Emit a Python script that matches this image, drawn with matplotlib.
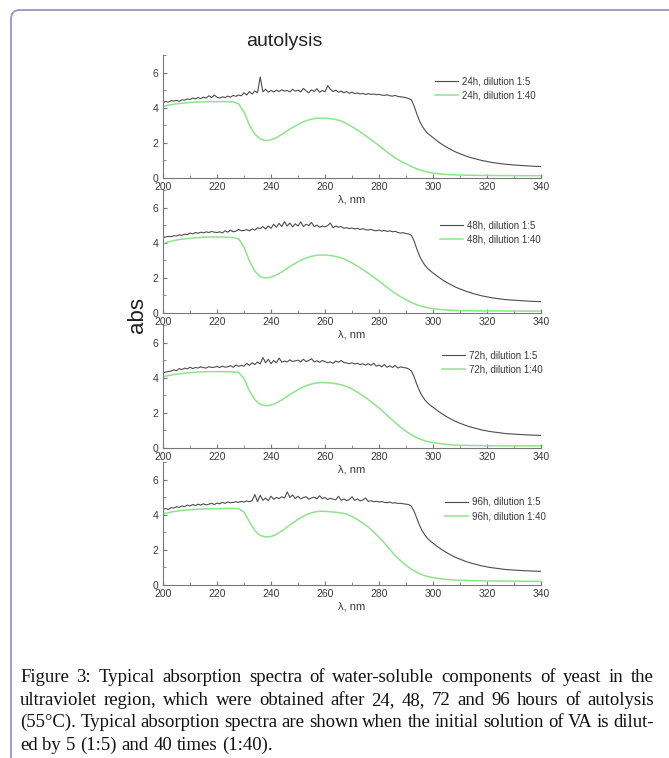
import numpy as np
import matplotlib
matplotlib.use("Agg")
import matplotlib.pyplot as plt
from matplotlib.patches import FancyBboxPatch
from matplotlib.transforms import IdentityTransform
from matplotlib.ticker import MultipleLocator

plt.rcParams['font.family'] = ['Liberation Sans', 'DejaVu Sans']

# wavelength grids (nm)
wl_fine = np.arange(200, 341, 1)
wl_coarse = np.arange(200, 341, 2)

hours = ["24h", "48h", "72h", "96h"]

# dilution 1:5 spectra, 1 nm steps
abs_24h_5 = [
    4.30, 4.35, 4.32, 4.40, 4.38, 4.42, 4.36, 4.45, 4.43, 4.50,
    4.47, 4.55, 4.50, 4.58, 4.52, 4.60, 4.55, 4.68, 4.58, 4.72,
    4.60, 4.55, 4.62, 4.58, 4.66, 4.60, 4.70, 4.65, 4.72, 4.68,
    4.85, 4.72, 4.92, 4.78, 4.95, 4.85, 5.75, 4.90, 5.05, 4.88,
    4.98, 4.90, 5.00, 4.92, 5.02, 4.95, 4.98, 4.90, 5.05, 4.94,
    5.00, 4.90, 5.10, 4.96, 4.85, 5.02, 4.92, 5.08, 4.88, 4.98,
    4.90, 5.25, 5.05, 4.92, 5.00, 4.88, 4.95, 4.85, 4.92, 4.82,
    4.88, 4.80, 4.85, 4.78, 4.82, 4.75, 4.80, 4.76, 4.78, 4.74,
    4.76, 4.72, 4.70, 4.74, 4.68, 4.66, 4.70, 4.64, 4.62, 4.60,
    4.57, 4.52, 4.45, 4.10, 3.65, 3.25, 2.95, 2.72, 2.55, 2.42,
    2.30, 2.18, 2.06, 1.95, 1.85, 1.76, 1.67, 1.59, 1.51, 1.44,
    1.38, 1.32, 1.26, 1.21, 1.16, 1.12, 1.08, 1.04, 1.00, 0.97,
    0.94, 0.91, 0.88, 0.86, 0.84, 0.82, 0.80, 0.78, 0.77, 0.75,
    0.74, 0.73, 0.72, 0.71, 0.70, 0.69, 0.68, 0.67, 0.66, 0.66,
    0.65]
abs_48h_5 = [
    4.30, 4.33, 4.36, 4.34, 4.40, 4.38, 4.45, 4.42, 4.48, 4.46,
    4.55, 4.50, 4.58, 4.54, 4.60, 4.56, 4.62, 4.58, 4.64, 4.60,
    4.58, 4.62, 4.56, 4.68, 4.60, 4.72, 4.62, 4.66, 4.75, 4.68,
    4.70, 4.74, 4.68, 4.78, 4.72, 4.85, 4.80, 4.92, 4.78, 4.95,
    4.82, 5.05, 4.88, 5.10, 4.92, 5.20, 4.95, 5.12, 4.90, 5.08,
    4.95, 5.18, 4.92, 5.05, 4.98, 5.15, 4.92, 5.00, 4.88, 4.95,
    4.90, 4.98, 5.12, 4.85, 4.95, 4.88, 4.92, 4.82, 4.86, 4.80,
    4.84, 4.78, 4.82, 4.75, 4.80, 4.74, 4.72, 4.76, 4.70, 4.68,
    4.72, 4.66, 4.70, 4.64, 4.68, 4.62, 4.65, 4.58, 4.55, 4.57,
    4.52, 4.50, 4.42, 4.10, 3.65, 3.25, 2.95, 2.72, 2.54, 2.40,
    2.28, 2.16, 2.05, 1.94, 1.84, 1.75, 1.66, 1.58, 1.50, 1.43,
    1.37, 1.31, 1.25, 1.20, 1.15, 1.10, 1.06, 1.02, 0.98, 0.95,
    0.92, 0.89, 0.86, 0.84, 0.82, 0.80, 0.78, 0.76, 0.75, 0.74,
    0.73, 0.72, 0.71, 0.70, 0.69, 0.68, 0.67, 0.66, 0.66, 0.65,
    0.65]
abs_72h_5 = [
    4.28, 4.32, 4.35, 4.38, 4.45, 4.40, 4.52, 4.46, 4.55, 4.50,
    4.60, 4.52, 4.58, 4.55, 4.62, 4.57, 4.55, 4.63, 4.58, 4.60,
    4.64, 4.58, 4.66, 4.60, 4.62, 4.68, 4.60, 4.72, 4.65, 4.70,
    4.66, 4.82, 4.70, 4.85, 4.75, 4.90, 4.78, 5.15, 4.85, 5.05,
    4.80, 4.98, 4.85, 5.12, 4.88, 4.95, 4.90, 5.02, 4.92, 4.96,
    5.00, 4.90, 5.05, 4.92, 4.98, 5.08, 4.90, 4.96, 4.88, 4.98,
    4.92, 4.85, 4.90, 4.82, 4.95, 4.88, 4.98, 4.86, 4.84, 4.80,
    4.85, 4.78, 4.82, 4.75, 4.79, 4.72, 4.80, 4.70, 4.82, 4.66,
    4.72, 4.62, 4.75, 4.60, 4.68, 4.58, 4.70, 4.55, 4.62, 4.58,
    4.56, 4.50, 4.38, 4.05, 3.62, 3.25, 2.96, 2.74, 2.57, 2.43,
    2.32, 2.20, 2.09, 1.98, 1.88, 1.79, 1.70, 1.62, 1.54, 1.47,
    1.41, 1.35, 1.29, 1.24, 1.19, 1.15, 1.11, 1.07, 1.03, 1.00,
    0.97, 0.94, 0.92, 0.90, 0.88, 0.86, 0.84, 0.82, 0.81, 0.80,
    0.79, 0.78, 0.77, 0.76, 0.75, 0.75, 0.74, 0.73, 0.73, 0.72,
    0.72]
abs_96h_5 = [
    4.32, 4.35, 4.30, 4.40, 4.38, 4.45, 4.42, 4.50, 4.46, 4.55,
    4.50, 4.58, 4.52, 4.60, 4.55, 4.62, 4.56, 4.60, 4.65, 4.58,
    4.66, 4.62, 4.70, 4.65, 4.72, 4.68, 4.70, 4.74, 4.70, 4.76,
    4.72, 4.78, 4.74, 4.80, 5.15, 4.75, 5.10, 4.82, 4.95, 4.80,
    5.05, 4.88, 4.98, 4.92, 5.02, 4.95, 5.30, 4.98, 5.12, 4.92,
    5.05, 4.90, 4.98, 5.02, 4.88, 4.96, 5.00, 4.90, 5.08, 4.92,
    4.98, 4.86, 4.94, 4.88, 4.85, 5.05, 4.82, 4.90, 4.80, 4.86,
    5.02, 4.82, 4.90, 4.78, 4.84, 4.95, 4.76, 4.80, 4.74, 4.76,
    4.72, 4.75, 4.70, 4.68, 4.72, 4.66, 4.68, 4.64, 4.65, 4.62,
    4.60, 4.58, 4.48, 4.20, 3.80, 3.40, 3.08, 2.84, 2.65, 2.50,
    2.38, 2.26, 2.15, 2.04, 1.94, 1.85, 1.76, 1.68, 1.60, 1.53,
    1.47, 1.41, 1.35, 1.30, 1.25, 1.21, 1.17, 1.13, 1.09, 1.06,
    1.03, 1.00, 0.98, 0.96, 0.94, 0.92, 0.90, 0.88, 0.87, 0.86,
    0.85, 0.84, 0.83, 0.82, 0.81, 0.81, 0.80, 0.79, 0.79, 0.78,
    0.78]

# dilution 1:40 spectra, 2 nm steps
abs_24h_40 = [
    4.07, 4.15, 4.20, 4.24, 4.27, 4.30, 4.32, 4.33, 4.34, 4.35,
    4.34, 4.35, 4.34, 4.33, 4.22, 3.75, 3.00, 2.50, 2.22, 2.12,
    2.17, 2.30, 2.48, 2.68, 2.88, 3.05, 3.20, 3.31, 3.38, 3.41,
    3.41, 3.38, 3.33, 3.24, 3.10, 2.92, 2.73, 2.52, 2.30, 2.07,
    1.85, 1.60, 1.36, 1.14, 0.96, 0.80, 0.65, 0.52, 0.42, 0.34,
    0.28, 0.24, 0.21, 0.19, 0.18, 0.17, 0.16, 0.16, 0.15, 0.15,
    0.15, 0.14, 0.14, 0.14, 0.14, 0.13, 0.13, 0.13, 0.13, 0.13,
    0.13]
abs_48h_40 = [
    3.95, 4.05, 4.12, 4.18, 4.22, 4.25, 4.28, 4.30, 4.32, 4.33,
    4.32, 4.33, 4.31, 4.30, 4.22, 3.75, 2.95, 2.38, 2.07, 1.99,
    2.04, 2.16, 2.34, 2.54, 2.74, 2.92, 3.07, 3.18, 3.26, 3.30,
    3.30, 3.27, 3.22, 3.14, 3.01, 2.85, 2.67, 2.47, 2.26, 2.04,
    1.82, 1.58, 1.34, 1.12, 0.93, 0.76, 0.60, 0.47, 0.37, 0.30,
    0.25, 0.21, 0.18, 0.16, 0.15, 0.14, 0.13, 0.13, 0.12, 0.12,
    0.12, 0.12, 0.12, 0.12, 0.11, 0.11, 0.11, 0.11, 0.11, 0.11,
    0.11]
abs_72h_40 = [
    4.05, 4.12, 4.18, 4.22, 4.26, 4.29, 4.31, 4.33, 4.34, 4.35,
    4.34, 4.35, 4.34, 4.33, 4.30, 3.95, 3.25, 2.75, 2.48, 2.40,
    2.44, 2.56, 2.74, 2.94, 3.14, 3.32, 3.48, 3.60, 3.68, 3.72,
    3.72, 3.70, 3.66, 3.60, 3.50, 3.36, 3.18, 2.98, 2.76, 2.52,
    2.28, 2.00, 1.72, 1.44, 1.18, 0.95, 0.75, 0.58, 0.46, 0.37,
    0.31, 0.26, 0.22, 0.19, 0.17, 0.16, 0.15, 0.14, 0.14, 0.13,
    0.13, 0.13, 0.13, 0.12, 0.12, 0.12, 0.12, 0.12, 0.12, 0.12,
    0.12]
abs_96h_40 = [
    4.05, 4.12, 4.18, 4.22, 4.26, 4.28, 4.30, 4.32, 4.33, 4.34,
    4.34, 4.35, 4.36, 4.36, 4.34, 4.15, 3.60, 3.10, 2.82, 2.73,
    2.76, 2.88, 3.08, 3.30, 3.52, 3.74, 3.92, 4.06, 4.15, 4.20,
    4.19, 4.17, 4.14, 4.10, 4.04, 3.90, 3.72, 3.52, 3.30, 3.02,
    2.72, 2.38, 2.02, 1.68, 1.38, 1.12, 0.90, 0.72, 0.58, 0.48,
    0.42, 0.37, 0.33, 0.30, 0.28, 0.27, 0.26, 0.25, 0.24, 0.24,
    0.23, 0.23, 0.23, 0.22, 0.22, 0.22, 0.22, 0.21, 0.21, 0.21,
    0.21]

series_5 = [abs_24h_5, abs_48h_5, abs_72h_5, abs_96h_5]
series_40 = [abs_24h_40, abs_48h_40, abs_72h_40, abs_96h_40]

caption_lines = [
    "Figure 3: Typical absorption spectra of water-soluble components of yeast in the",
    "ultraviolet region, which were obtained after 24, 48, 72 and 96 hours of autolysis",
    "(55°C). Typical absorption spectra are shown when the initial solution of VA is dilut-",
    "ed by 5 (1:5) and 40 times (1:40).",
]

W, H = 669, 758
fig = plt.figure(figsize=(W / 100, H / 100), dpi=100)

# page frame (rounded corner, runs off right and bottom)
frame = FancyBboxPatch((11, -60), 720, H - 10 + 60,
                       boxstyle="round,pad=0,rounding_size=9",
                       transform=IdentityTransform(),
                       facecolor="none", edgecolor="#9d9dc6", linewidth=1.4)
fig.add_artist(frame)

# axes placement in pixels: bottom edge of each panel
ax_left, ax_right = 163, 541
panel_h = 123
bottoms = [178, 313, 448, 585]
legend_pos = [(435, 76), (440, 220), (442, 350), (445, 497)]

line_col = "#4d4d4d"
green_col = "#8ee48e"

for i in range(4):
    b = bottoms[i]
    ax = fig.add_axes([ax_left / W, 1 - b / H, (ax_right - ax_left) / W, panel_h / H])
    l1, = ax.plot(wl_fine, series_5[i], color=line_col, lw=0.8)
    l2, = ax.plot(wl_coarse, series_40[i], color=green_col, lw=1.1)
    ax.set_xlim(200, 340)
    ax.set_ylim(0, 7)
    ax.xaxis.set_major_locator(MultipleLocator(20))
    ax.xaxis.set_minor_locator(MultipleLocator(10))
    ax.set_yticks([0, 2, 4, 6])
    ax.yaxis.set_minor_locator(MultipleLocator(1))
    for s in ["top", "right"]:
        ax.spines[s].set_visible(False)
    for s in ["left", "bottom"]:
        ax.spines[s].set_color("#777777")
        ax.spines[s].set_linewidth(0.8)
    ax.tick_params(which="both", direction="in", colors="#777777", labelcolor="#3a3a3a",
                   labelsize=7.5)
    ax.tick_params(axis="x", which="both", pad=3)
    ax.tick_params(axis="y", which="both", pad=3.5)
    ax.tick_params(which="major", length=3)
    ax.tick_params(which="minor", length=2)
    ax.set_xlabel("λ, nm", fontsize=8, color="#3a3a3a", labelpad=1.5)
    ax.patch.set_alpha(0)
    lx, ly = legend_pos[i]
    ax.legend([l1, l2], [hours[i] + ", dilution 1:5", hours[i] + ", dilution 1:40"],
              loc="upper left",
              bbox_to_anchor=((lx - ax_left) / (ax_right - ax_left), (b - ly) / panel_h),
              frameon=False, fontsize=7, handlelength=2.4, handletextpad=0.4,
              labelspacing=0.45, borderaxespad=0, borderpad=0, labelcolor="#3a3a3a")

fig.text(284 / W, 1 - 41 / H, "autolysis", fontsize=14, ha="center", va="center", color="#222222")
fig.text(138 / W, 1 - 315 / H, "abs", fontsize=16, rotation=90, ha="center", va="center",
         color="#222222")

# justified caption
renderer = fig.canvas.get_renderer()
cap_left, cap_right = 20, 654
cap_size = 13.5
baselines = [682, 705, 727, 750]
for j, line in enumerate(caption_lines):
    words = line.split(" ")
    texts = [fig.text(0, 0, w, fontsize=cap_size, family="Liberation Serif", color="#111111",
                      transform=IdentityTransform(), va="baseline") for w in words]
    widths = [t.get_window_extent(renderer).width for t in texts]
    if j < len(caption_lines) - 1:
        gap = (cap_right - cap_left - sum(widths)) / (len(words) - 1)
    else:
        space = fig.text(0, 0, "a b", fontsize=cap_size, family="Liberation Serif",
                         transform=IdentityTransform())
        sp = space.get_window_extent(renderer).width
        ab = fig.text(0, 0, "ab", fontsize=cap_size, family="Liberation Serif",
                      transform=IdentityTransform())
        gap = sp - ab.get_window_extent(renderer).width
        space.remove()
        ab.remove()
    x = cap_left
    for t, w in zip(texts, widths):
        t.set_position((x, H - baselines[j]))
        x += w + gap

fig.savefig("out.png", dpi=100)
